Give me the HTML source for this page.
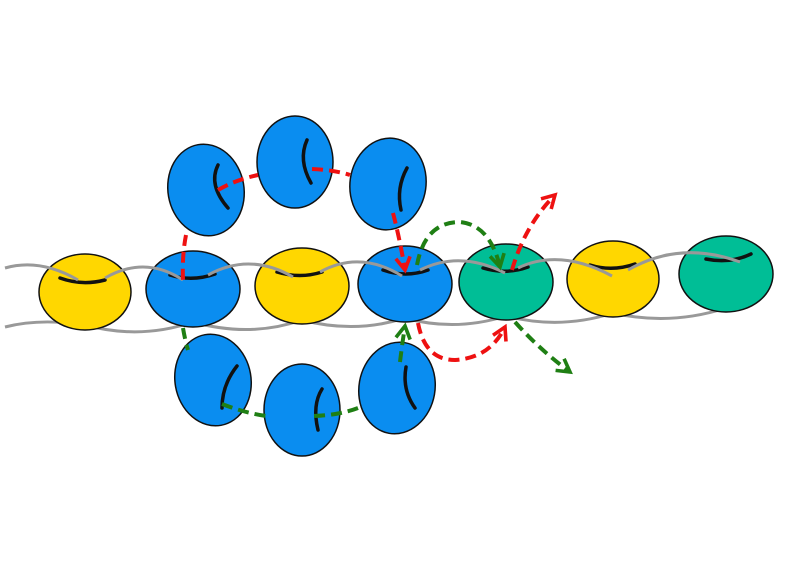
<!DOCTYPE html>
<html><head><meta charset="utf-8"><style>html,body{margin:0;padding:0;background:#fff}svg{display:block}</style></head>
<body>
<svg width="795" height="572" viewBox="0 0 795 572" xmlns="http://www.w3.org/2000/svg">
<defs>
<marker id="ar" viewBox="0 0 10 10" refX="8" refY="5" markerWidth="4.5" markerHeight="4.5" orient="auto"><path d="M1,1 L8,5 L1,9" fill="none" stroke="#ee1111" stroke-width="2"/></marker>
<marker id="ag" viewBox="0 0 10 10" refX="8" refY="5" markerWidth="4.5" markerHeight="4.5" orient="auto"><path d="M1,1 L8,5 L1,9" fill="none" stroke="#1f7f14" stroke-width="2"/></marker>
</defs>
<g fill="none" stroke="#999" stroke-width="3">
<path d="M5,327 Q40,318 85,325"/>
<path d="M85,325 Q140,340 193,322"/>
<path d="M193,322 Q250,338 302,320"/>
<path d="M302,320 Q355,334 405,318"/>
<path d="M405,318 Q455,332 506,316"/>
<path d="M506,316 Q560,330 613,313"/>
<path d="M613,313 Q670,326 726,308"/>
</g>
<g stroke="#111" stroke-width="1.5">
<ellipse cx="85" cy="292" rx="46" ry="38" fill="#ffd700"/>
<ellipse cx="193" cy="289" rx="47" ry="38" fill="#0a8df0"/>
<ellipse cx="302" cy="286" rx="47" ry="38" fill="#ffd700"/>
<ellipse cx="405" cy="284" rx="47" ry="38" fill="#0a8df0"/>
<ellipse cx="506" cy="282" rx="47" ry="38" fill="#00be96"/>
<ellipse cx="613" cy="279" rx="46" ry="38" fill="#ffd700"/>
<ellipse cx="726" cy="274" rx="47" ry="38" fill="#00be96"/>
<ellipse cx="206" cy="190" rx="38" ry="46" fill="#0a8df0" transform="rotate(-10 206 190)"/>
<ellipse cx="295" cy="162" rx="38" ry="46" fill="#0a8df0"/>
<ellipse cx="388" cy="184" rx="38" ry="46" fill="#0a8df0" transform="rotate(8 388 184)"/>
<ellipse cx="213" cy="380" rx="38" ry="46" fill="#0a8df0" transform="rotate(-10 213 380)"/>
<ellipse cx="302" cy="410" rx="38" ry="46" fill="#0a8df0"/>
<ellipse cx="397" cy="388" rx="38" ry="46" fill="#0a8df0" transform="rotate(10 397 388)"/>
</g>
<g fill="none" stroke="#111" stroke-width="3.5" stroke-linecap="round">
<path d="M60,278 Q82,286 105,280"/>
<path d="M170,275 Q192,282 215,274"/>
<path d="M277,272 Q300,279 322,272"/>
<path d="M383,270 Q406,278 428,270"/>
<path d="M483,268 Q506,275 528,267"/>
<path d="M590,265 Q612,272 635,264"/>
<path d="M706,259 Q730,264 751,254"/>
<path d="M218,165 Q208,185 228,208"/>
<path d="M307,140 Q298,160 311,183"/>
<path d="M407,168 Q396,188 401,210"/>
<path d="M237,366 Q222,385 222,408"/>
<path d="M322,389 Q312,405 318,430"/>
<path d="M406,367 Q402,390 415,408"/>
</g>
<g fill="none" stroke="#999" stroke-width="3">
<path d="M5,268 Q40,258 78,280"/>
<path d="M105,278 Q145,255 183,280"/>
<path d="M208,275 Q250,252 293,277"/>
<path d="M320,272 Q360,250 402,276"/>
<path d="M420,270 Q460,250 505,273"/>
<path d="M518,268 Q560,248 612,276"/>
<path d="M628,270 Q680,240 740,262"/>
</g>
<g fill="none" stroke="#ee1111" stroke-width="4" stroke-dasharray="11,6">
<path d="M186,235 Q182,255 183,280"/>
<path d="M218,190 Q235,180 258,175"/>
<path d="M312,169 Q335,170 350,175"/>
<path d="M393,213 Q400,240 405,270" marker-end="url(#ar)"/>
<path d="M418,323 Q425,360 455,360 Q490,358 505,327" marker-end="url(#ar)"/>
<path d="M512,270 Q525,225 555,195" marker-end="url(#ar)"/>
</g>
<g fill="none" stroke="#1f7f14" stroke-width="4" stroke-dasharray="11,6">
<path d="M183,328 Q185,340 188,350"/>
<path d="M222,404 Q245,413 266,416"/>
<path d="M314,416 Q340,415 358,408"/>
<path d="M400,362 Q402,345 405,326" marker-end="url(#ag)"/>
<path d="M417,265 Q425,222 460,222 Q490,225 500,267" marker-end="url(#ag)"/>
<path d="M515,322 Q540,350 570,372" marker-end="url(#ag)"/>
</g>
</svg>
</body></html>
